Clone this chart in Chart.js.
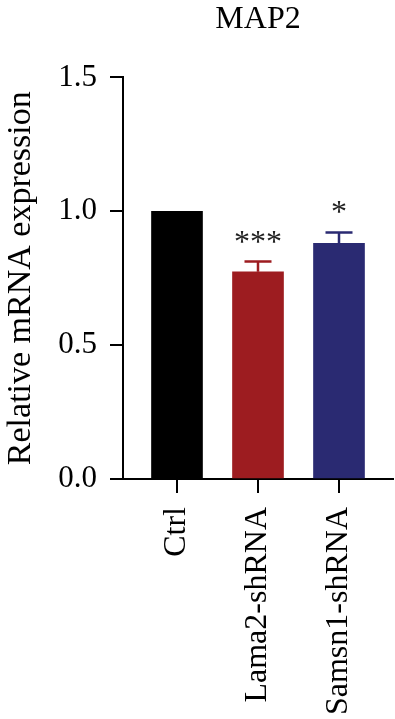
<!DOCTYPE html>
<html>
<head>
<meta charset="utf-8">
<script src="https://cdn.jsdelivr.net/npm/chart.js@4/dist/chart.umd.min.js"></script>
<style>
  body { margin: 0; background: #fff; }
</style>
</head>
<body>
<canvas id="mapChart" width="395" height="719"></canvas>
<script>
// chart data
const categories = ['Ctrl', 'Lama2-shRNA', 'Samsn1-shRNA'];
const values = [1.0, 0.774, 0.880];
const sem = [0, 0.038, 0.041];
const stars = ['', '***', '*'];
const barColors = ['#000000', '#9d1c20', '#2a2a72'];
const yTicks = [0, 0.5, 1.0, 1.5];

const serif = "'Liberation Serif', 'DejaVu Serif', serif";

// draws SEM whiskers (upper half only) and significance stars
const errorBarPlugin = {
    id: 'errorBars',
    afterDatasetsDraw(chart) {
        const ctx = chart.ctx;
        const xs = chart.scales.x;
        const ys = chart.scales.y;
        ctx.save();
        categories.forEach((c, i) => {
            const x = xs.getPixelForValue(i + 1);
            const yTop = ys.getPixelForValue(values[i]);
            const yErr = ys.getPixelForValue(values[i] + sem[i]);
            if (sem[i] > 0) {
                ctx.strokeStyle = barColors[i];
                ctx.lineWidth = 2.5;
                ctx.beginPath();
                ctx.moveTo(x, yTop);
                ctx.lineTo(x, yErr);
                ctx.moveTo(x - 13.5, yErr);
                ctx.lineTo(x + 13.5, yErr);
                ctx.stroke();
            }
            if (stars[i]) {
                ctx.fillStyle = '#222';
                ctx.font = '32px ' + serif;
                ctx.textAlign = 'center';
                ctx.textBaseline = 'alphabetic';
                ctx.fillText(stars[i], x, yErr - 10);
            }
        });
        ctx.restore();
    }
};

const ctx = document.getElementById('mapChart').getContext('2d');
const chart = new Chart(ctx, {
    type: 'bar',
    data: {
        datasets: [{
            data: categories.map((c, i) => ({ x: i + 1, y: values[i] })),
            backgroundColor: barColors,
            borderWidth: 0,
            barThickness: 51
        }]
    },
    options: {
        responsive: false,
        animation: false,
        layout: { padding: { top: 0, left: 0, right: 2, bottom: 0 } },
        plugins: {
            legend: { display: false },
            tooltip: { enabled: false },
            title: {
                display: true,
                text: 'MAP2',
                fullSize: false,
                color: '#000',
                font: { family: serif, size: 32, weight: 'normal' },
                padding: { top: 0, bottom: 39 }
            }
        },
        scales: {
            x: {
                type: 'linear',
                offset: false,
                min: 1 / 3,
                max: 11 / 3,
                afterBuildTicks(scale) {
                    scale.ticks = categories.map((c, i) => ({ value: i + 1 }));
                },
                afterFit(scale) {
                    scale.height = 240;
                },
                border: { display: true, color: '#000', width: 2 },
                grid: {
                    offset: false,
                    drawOnChartArea: false,
                    drawTicks: true,
                    tickLength: 14,
                    tickColor: '#000',
                    lineWidth: 2
                },
                ticks: {
                    autoSkip: false,
                    minRotation: 90,
                    maxRotation: 90,
                    padding: 14,
                    color: '#000',
                    font: { family: serif, size: 32 },
                    callback: (v) => categories[v - 1] || ''
                }
            },
            y: {
                min: 0,
                max: 1.5,
                afterBuildTicks(scale) {
                    scale.ticks = yTicks.map(v => ({ value: v }));
                },
                afterFit(scale) {
                    scale.width = 123;
                },
                border: { display: true, color: '#000', width: 2 },
                grid: {
                    drawOnChartArea: false,
                    drawTicks: true,
                    tickLength: 13,
                    tickColor: '#000',
                    lineWidth: 2
                },
                ticks: {
                    padding: 13,
                    color: '#000',
                    font: { family: serif, size: 31 },
                    callback: (v) => v.toFixed(1)
                },
                title: {
                    display: true,
                    text: 'Relative mRNA expression',
                    color: '#000',
                    font: { family: serif, size: 34 },
                    padding: { top: 1, bottom: 0 }
                }
            }
        }
    },
    plugins: [errorBarPlugin]
});
</script>
</body>
</html>
